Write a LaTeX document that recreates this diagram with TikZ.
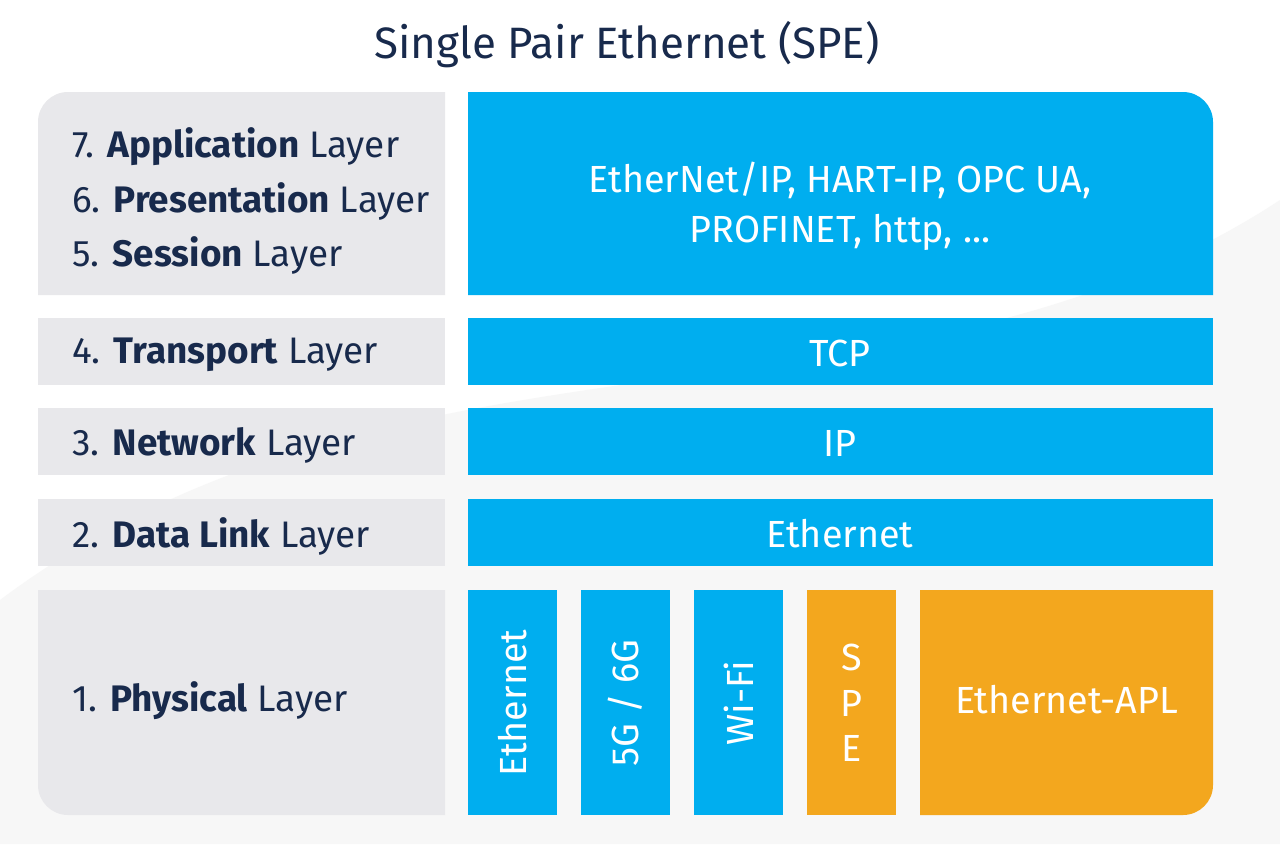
\documentclass[tikz,border=0pt]{standalone}
\usepackage{fontspec}
\setmainfont{Fira Sans}
\begin{document}
\begin{tikzpicture}
	% Define colors
	\definecolor{speblue}{RGB}{0,174,239}
	\definecolor{speorange}{RGB}{243,167,30}
	\definecolor{layergray}{RGB}{232,232,235}
	\definecolor{navy}{RGB}{24,42,76}
	\tikzset{
		lefttext/.style={anchor=west, text=navy, font=\fontsize{21}{25}\selectfont, inner sep=0pt},
		boxtext/.style={text=white, font=\fontsize{21.5}{25}\selectfont, inner sep=0pt},
	}
	
	% Background
	\fill[white] (0,0) rectangle (25.6,-16.88);
	\fill[gray!6] (0,-16.88) -- (25.6,-16.88) -- (25.6,-4) .. controls (18,-9) and (8,-6) .. (0,-12) -- cycle;
	
	% Title
	\node[text=navy, font=\fontsize{25}{30}\selectfont] (title) at (12.54,-0.9) {Single Pair Ethernet (SPE)};
	
	% Left layer column
	\fill[layergray] (0.76,-5.9) -- (0.76,-2.44) arc[start angle=180,end angle=90,radius=0.6] -- (8.9,-1.84) -- (8.9,-5.9) -- cycle;
	\fill[layergray] (0.76,-6.36) rectangle (8.9,-7.7);
	\fill[layergray] (0.76,-8.16) rectangle (8.9,-9.5);
	\fill[layergray] (0.76,-9.98) rectangle (8.9,-11.32);
	\fill[layergray] (0.76,-11.8) -- (8.9,-11.8) -- (8.9,-16.3) -- (1.36,-16.3) arc[start angle=270,end angle=180,radius=0.6] -- cycle;
	
	\node[lefttext] (app) at (1.44,-2.94) {7. \textbf{Application} Layer};
	\node[lefttext] (pres) at (1.44,-4.02) {6. \textbf{Presentation} Layer};
	\node[lefttext] (sess) at (1.44,-5.1) {5. \textbf{Session} Layer};
	\node[lefttext] (trans) at (1.44,-7.1) {4. \textbf{Transport} Layer};
	\node[lefttext] (net) at (1.44,-8.9) {3. \textbf{Network} Layer};
	\node[lefttext] (link) at (1.44,-10.72) {2. \textbf{Data Link} Layer};
	\node[lefttext] (phys) at (1.44,-14.02) {1. \textbf{Physical} Layer};
	
	% Right protocol column
	\fill[speblue] (9.36,-5.9) -- (9.36,-1.84) -- (23.66,-1.84) arc[start angle=90,end angle=0,radius=0.6] -- (24.26,-5.9) -- cycle;
	\fill[speblue] (9.36,-6.36) rectangle (24.26,-7.7);
	\fill[speblue] (9.36,-8.16) rectangle (24.26,-9.5);
	\fill[speblue] (9.36,-9.98) rectangle (24.26,-11.32);
	
	\node[boxtext] (apps1) at (16.8,-3.6) {EtherNet/IP, HART-IP, OPC UA,};
	\node[boxtext] (apps2) at (16.8,-4.64) {PROFINET, http, ...};
	\node[boxtext] (tcp) at (16.8,-7.06) {TCP};
	\node[boxtext] (ip) at (16.8,-8.86) {IP};
	\node[boxtext] (eth) at (16.8,-10.68) {Ethernet};
	
	% Physical media
	\fill[speblue] (9.36,-11.8) rectangle (11.14,-16.3);
	\fill[speblue] (11.62,-11.8) rectangle (13.4,-16.3);
	\fill[speblue] (13.88,-11.8) rectangle (15.66,-16.3);
	\fill[speorange] (16.14,-11.8) rectangle (17.92,-16.3);
	\fill[speorange] (18.4,-11.8) -- (24.26,-11.8) -- (24.26,-15.7) arc[start angle=0,end angle=-90,radius=0.6] -- (18.4,-16.3) -- cycle;
	
	\node[boxtext, rotate=90] (ethphy) at (10.25,-14.06) {Ethernet};
	\node[boxtext, rotate=90] (fivegee) at (12.51,-14.06) {5G / 6G};
	\node[boxtext, rotate=90] (wifi) at (14.77,-14.06) {Wi-Fi};
	\node[boxtext, align=center, font=\fontsize{21.5}{26}\selectfont] (spe) at (17.03,-14.06) {S\\P\\E};
	\node[boxtext] (apl) at (21.33,-14.0) {Ethernet-APL};
\end{tikzpicture}
\end{document}
